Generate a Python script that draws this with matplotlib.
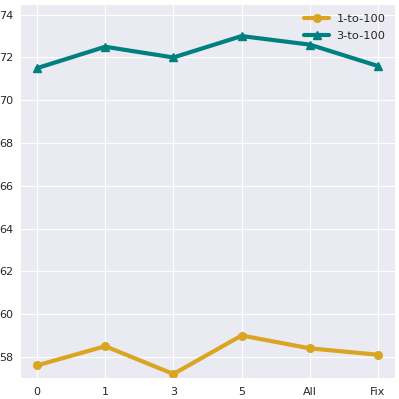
import matplotlib
matplotlib.use("Agg")
import matplotlib.pyplot as plt
import seaborn as sns

sns.set_style("darkgrid")

shots = ["0", "1", "3", "5", "All", "Fix"]
one_to_100 = [57.6, 58.5, 57.2, 59.0, 58.4, 58.1]
three_to_100 = [71.5, 72.5, 72.0, 73.0, 72.6, 71.6]

fig = plt.figure(figsize=(3.99, 3.99), dpi=100)
ax = fig.add_axes([0.050, 0.053, 0.940, 0.937])

x = range(len(shots))
ax.plot(x, one_to_100, color="goldenrod", marker="o", markersize=5.5, linewidth=3, label="1-to-100")
ax.plot(x, three_to_100, color="teal", marker="^", markersize=5.5, linewidth=3, label="3-to-100")

ax.set_xticks(list(x))
ax.set_xticklabels(shots)
ax.set_xlim(-0.25, 5.25)
ax.set_ylim(57.02, 74.5)
ax.set_yticks([58, 60, 62, 64, 66, 68, 70, 72, 74])
ax.tick_params(axis="x", labelsize=8, pad=2.8)
ax.tick_params(axis="y", labelsize=8, pad=1.5)
ax.legend(loc="upper right", frameon=False, fontsize=8.2, handlelength=2.2,
          borderaxespad=0.45, labelspacing=0.65, handletextpad=0.6)

fig.savefig("out.png", dpi=100)
